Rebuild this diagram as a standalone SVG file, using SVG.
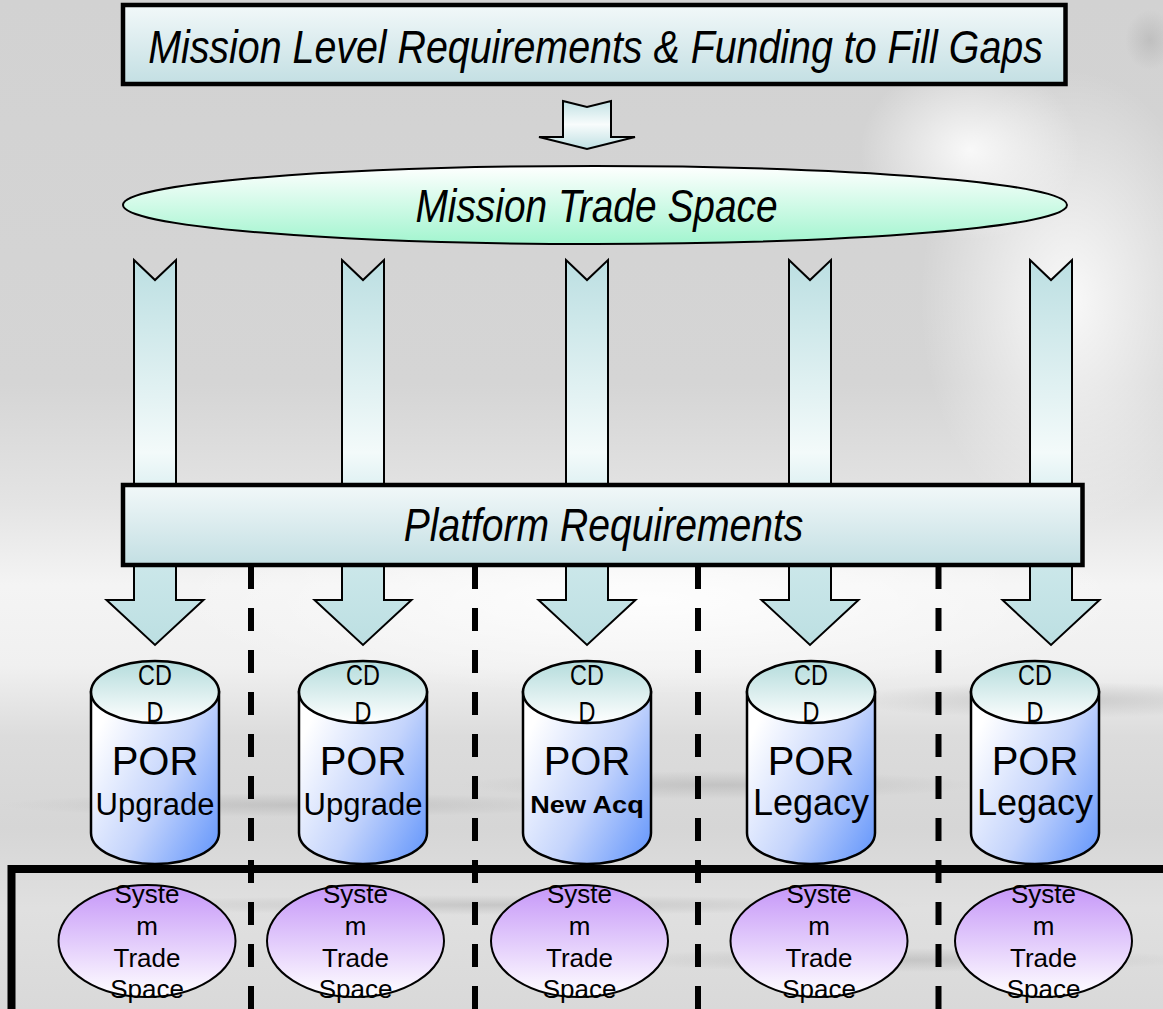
<svg xmlns="http://www.w3.org/2000/svg" width="1163" height="1009" viewBox="0 0 1163 1009">
<defs>
<linearGradient id="bgV" x1="0" y1="0" x2="0" y2="1">
<stop offset="0" stop-color="#d2d2d2"/><stop offset="0.38" stop-color="#d5d5d5"/><stop offset="0.5" stop-color="#e4e4e4"/><stop offset="0.58" stop-color="#f4f4f4"/><stop offset="0.66" stop-color="#f0f0f0"/><stop offset="0.73" stop-color="#dcdcdc"/><stop offset="0.82" stop-color="#d6d6d6"/><stop offset="0.9" stop-color="#e0e0e0"/><stop offset="1" stop-color="#d9d9d9"/>
</linearGradient>
<radialGradient id="white"><stop offset="0" stop-color="#fff" stop-opacity="0.85"/><stop offset="1" stop-color="#fff" stop-opacity="0"/></radialGradient>
<radialGradient id="gray"><stop offset="0" stop-color="#a8a8a8" stop-opacity="0.45"/><stop offset="1" stop-color="#a8a8a8" stop-opacity="0"/></radialGradient>
<linearGradient id="boxGrad" x1="0" y1="0" x2="0" y2="1"><stop offset="0" stop-color="#f2f8f9"/><stop offset="1" stop-color="#c3dfe3"/></linearGradient>
<linearGradient id="mtsGrad" x1="0" y1="0" x2="0" y2="1"><stop offset="0" stop-color="#ffffff"/><stop offset="1" stop-color="#a2f5cf"/></linearGradient>
<linearGradient id="arrowGrad" gradientUnits="userSpaceOnUse" x1="0" y1="260" x2="0" y2="645"><stop offset="0" stop-color="#bcdfe2"/><stop offset="0.5" stop-color="#f3fafa"/><stop offset="0.62" stop-color="#d8eef0"/><stop offset="1" stop-color="#bcdfe2"/></linearGradient>
<linearGradient id="smallArrowGrad" gradientUnits="userSpaceOnUse" x1="0" y1="100" x2="0" y2="149"><stop offset="0" stop-color="#bfe0e3"/><stop offset="0.5" stop-color="#f8fcfc"/><stop offset="1" stop-color="#bfe0e3"/></linearGradient>
<linearGradient id="cylBody" x1="0" y1="0.3" x2="1" y2="1"><stop offset="0" stop-color="#ffffff"/><stop offset="0.5" stop-color="#c4d4fc"/><stop offset="1" stop-color="#5f93fb"/></linearGradient>
<linearGradient id="cylTop" x1="0" y1="0" x2="0" y2="1"><stop offset="0" stop-color="#b4dcdc"/><stop offset="1" stop-color="#ffffff"/></linearGradient>
<linearGradient id="sysGrad" x1="0" y1="0" x2="0" y2="1"><stop offset="0" stop-color="#c596f8"/><stop offset="1" stop-color="#ffffff"/></linearGradient>
<path id="bigArrow" d="M-21,260 L0,280 L21,260 L21,600 L48.5,600 L0,645 L-48.5,600 L-21,600 Z"/>
<g id="cyl">
<path d="M-64,692 L-64,833 A64,31 0 0 0 64,833 L64,692 Z" fill="url(#cylBody)" stroke="#000" stroke-width="2.5"/>
<ellipse cx="0" cy="692" rx="64" ry="31" fill="url(#cylTop)" stroke="#000" stroke-width="2.5"/>
<text class="cd" transform="translate(0,685) scale(0.78,1)">CD</text>
<text class="cd" transform="translate(0,722) scale(0.78,1)">D</text>
<text class="por" x="0" y="775">POR</text>
</g>
<g id="sys">
<ellipse cx="0" cy="941" rx="88.5" ry="56" fill="url(#sysGrad)" stroke="#000" stroke-width="2"/>
<text class="sys" x="0" y="903">Syste</text>
<text class="sys" x="0" y="935">m</text>
<text class="sys" x="0" y="967">Trade</text>
<text class="sys" x="0" y="998">Space</text>
</g>
</defs>
<style>
.t{font-family:"Liberation Sans",Arial,sans-serif;font-style:italic;font-size:46px;fill:#000;text-anchor:middle}
.box{stroke:#000;stroke-width:4.5;fill:url(#boxGrad)}
.arrow{fill:url(#arrowGrad);stroke:#000;stroke-width:2}
.cd{font-family:"Liberation Sans",Arial,sans-serif;font-size:30px;text-anchor:middle}
.por{font-family:"Liberation Sans",Arial,sans-serif;font-size:40px;text-anchor:middle}
.sub{font-family:"Liberation Sans",Arial,sans-serif;text-anchor:middle}
.sys{font-family:"Liberation Sans",Arial,sans-serif;font-size:26px;text-anchor:middle}
.sep{stroke:#000;stroke-width:6;stroke-dasharray:23 19;fill:none}
</style>
<g id="background">
<rect width="1163" height="1009" fill="url(#bgV)"/>
<ellipse cx="1070" cy="300" rx="150" ry="230" fill="url(#white)"/>
<ellipse cx="970" cy="150" rx="110" ry="90" fill="url(#white)"/>
<ellipse cx="1150" cy="40" rx="25" ry="30" fill="url(#gray)"/>
<ellipse cx="650" cy="600" rx="480" ry="95" fill="url(#white)"/>
<ellipse cx="1060" cy="700" rx="220" ry="18" fill="url(#gray)"/>
<ellipse cx="720" cy="785" rx="260" ry="14" fill="url(#gray)"/>
<ellipse cx="300" cy="805" rx="300" ry="12" fill="url(#gray)"/>
<ellipse cx="500" cy="905" rx="420" ry="10" fill="url(#gray)"/>
<ellipse cx="900" cy="960" rx="300" ry="12" fill="url(#gray)"/>
</g>
<g id="connectors">
<path d="M563,101 L587,107 L611,101 L611,137 L635,137 L587,149 L539,137 L563,137 Z" fill="url(#smallArrowGrad)" stroke="#000" stroke-width="2"/>
<use href="#bigArrow" class="arrow" transform="translate(155,0)"/>
<use href="#bigArrow" class="arrow" transform="translate(363,0)"/>
<use href="#bigArrow" class="arrow" transform="translate(587,0)"/>
<use href="#bigArrow" class="arrow" transform="translate(810,0)"/>
<use href="#bigArrow" class="arrow" transform="translate(1051,0)"/>
</g>
<g id="mission-level">
<rect x="123" y="5" width="942.5" height="79" class="box"/>
<text class="t" transform="translate(595.5,63) scale(0.856,1)">Mission Level Requirements &amp; Funding to Fill Gaps</text>
</g>
<g id="mission-trade-space">
<ellipse cx="595" cy="205" rx="472" ry="39" fill="url(#mtsGrad)" stroke="#000" stroke-width="2"/>
<text class="t" transform="translate(596.5,222) scale(0.845,1)">Mission Trade Space</text>
</g>
<g id="platform-requirements">
<rect x="123" y="485" width="959.5" height="80" class="box"/>
<text class="t" transform="translate(603.5,541) scale(0.85,1)">Platform Requirements</text>
</g>
<g id="separators">
<line x1="251" y1="566" x2="251" y2="1009" class="sep"/>
<line x1="475" y1="566" x2="475" y2="1009" class="sep"/>
<line x1="698" y1="566" x2="698" y2="1009" class="sep"/>
<line x1="938.5" y1="566" x2="938.5" y2="1009" class="sep"/>
</g>
<g id="system-frame">
<rect x="11.5" y="869" width="1170" height="200" fill="none" stroke="#000" stroke-width="8"/>
</g>
<g id="cyl1" transform="translate(155,0)"><use href="#cyl"/><text class="sub" x="0" y="815" font-size="31">Upgrade</text></g>
<g id="cyl2" transform="translate(363,0)"><use href="#cyl"/><text class="sub" x="0" y="815" font-size="31">Upgrade</text></g>
<g id="cyl3" transform="translate(587,0)"><use href="#cyl"/><text class="sub" font-size="24" font-weight="bold" transform="translate(0,813) scale(1.13,1)">New Acq</text></g>
<g id="cyl4" transform="translate(811,0)"><use href="#cyl"/><text class="sub" x="0" y="815" font-size="36">Legacy</text></g>
<g id="cyl5" transform="translate(1035,0)"><use href="#cyl"/><text class="sub" x="0" y="815" font-size="36">Legacy</text></g>
<g id="sys1" transform="translate(147,0)"><use href="#sys"/></g>
<g id="sys2" transform="translate(355.5,0)"><use href="#sys"/></g>
<g id="sys3" transform="translate(579.5,0)"><use href="#sys"/></g>
<g id="sys4" transform="translate(819,0)"><use href="#sys"/></g>
<g id="sys5" transform="translate(1043.5,0)"><use href="#sys"/></g>
</svg>
